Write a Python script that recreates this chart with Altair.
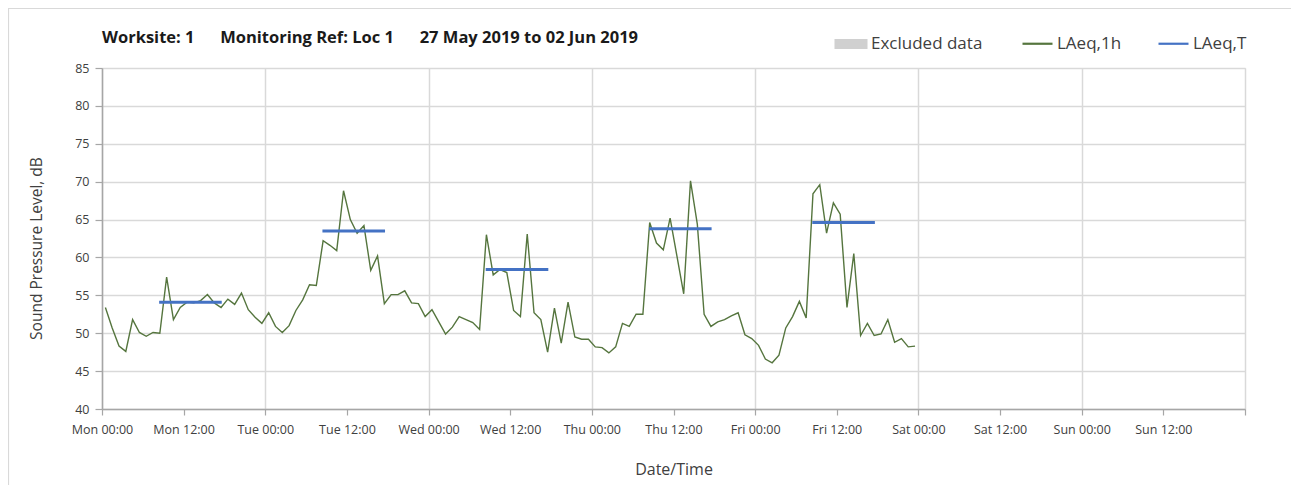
import altair as alt
import pandas as pd

# ---- data -------------------------------------------------------------
day_names = ["Mon", "Tue", "Wed", "Thu", "Fri", "Sat", "Sun", "Mon"]

# hourly LAeq,1h values, Mon 00:00 .. Fri 23:00 (plotted at mid-hour)
laeq_1h = [
    53.4, 50.7, 48.3, 47.6, 51.8, 50.1, 49.6, 50.1, 50.0, 57.4, 51.8, 53.4,
    54.1, 54.0, 54.3, 55.1, 54.0, 53.4, 54.5, 53.8, 55.3, 53.1, 52.1, 51.3,
    52.7, 50.9, 50.1, 51.0, 53.0, 54.4, 56.4, 56.3, 62.2, 61.6, 60.9, 68.8,
    65.0, 63.2, 64.2, 58.3, 60.2, 53.9, 55.1, 55.1, 55.6, 54.0, 53.9, 52.2,
    53.1, 51.5, 49.9, 50.8, 52.2, 51.8, 51.4, 50.5, 63.0, 57.7, 58.4, 58.0,
    53.0, 52.2, 63.1, 52.7, 51.8, 47.5, 53.3, 48.7, 54.1, 49.5, 49.2, 49.2,
    48.2, 48.1, 47.4, 48.2, 51.3, 50.9, 52.5, 52.5, 64.6, 61.9, 61.0, 65.2,
    60.2, 55.2, 70.1, 64.4, 52.5, 50.9, 51.5, 51.8, 52.3, 52.7, 49.8, 49.3,
    48.4, 46.6, 46.1, 47.1, 50.7, 52.2, 54.2, 52.0, 68.4, 69.6, 63.2, 67.2,
    65.7, 53.4, 60.5, 49.7, 51.3, 49.7, 49.9, 51.8, 48.8, 49.3, 48.2, 48.3,
]
hours = [h + 0.5 for h in range(len(laeq_1h))]

# LAeq,T daytime periods (hours from Mon 00:00)
lt_start = [8.4, 32.4, 56.4, 80.4, 104.4]
lt_end = [17.6, 41.6, 65.6, 89.6, 113.6]
lt_value = [54.1, 63.5, 58.4, 63.8, 64.6]

# excluded periods (none in this week)
excl_start = []
excl_end = []

x_ticks = list(range(0, 169, 12))
y_ticks = list(range(40, 86, 5))

title_parts = ["Worksite: 1", "Monitoring Ref: Loc 1", "27 May 2019 to 02 Jun 2019"]

GREEN = "#55753e"
BLUE = "#4472c4"
GREY = "#d0d0d0"
FONT = "Open Sans"
NB = "\u00a0"

df_1h = pd.DataFrame({"t": hours, "v": laeq_1h, "series": "LAeq,1h"})
df_t = pd.DataFrame({"t0": lt_start, "t1": lt_end, "v": lt_value, "series": "LAeq,T"})
df_ex = pd.DataFrame({"t0": pd.Series(excl_start, dtype=float),
                      "t1": pd.Series(excl_end, dtype=float),
                      "series": pd.Series([], dtype=str)})

label_expr = ("datum.value >= 168 ? '' : " + str(day_names) +
              "[floor(datum.value/24)] + ' ' + (datum.value % 24 == 0 ? '00:00' : '12:00')")

x_axis = alt.Axis(
    values=x_ticks, labelExpr=label_expr, title="Date/Time",
    grid=True,
    gridOpacity=alt.condition("datum.value % 24 == 0", alt.value(1), alt.value(0)),
    gridColor="#d9d9d9", gridWidth=1.5,
    domainColor="#a6a6a6", domainWidth=1.5, tickColor="#a6a6a6", tickWidth=1.2,
    tickSize=6, labelPadding=8, labelFontSize=12.5, labelColor="#404040",
    labelFont=FONT, titleFont=FONT, titleFontSize=16, titleFontWeight="normal",
    titleColor="#404040", titlePadding=26, labelFlush=False, labelOverlap=False,
)
y_axis = alt.Axis(
    values=y_ticks, title="Sound Pressure Level, dB",
    grid=True, gridColor="#d9d9d9", gridWidth=1.5,
    domainColor="#a6a6a6", domainWidth=1.5, tickColor="#a6a6a6", tickWidth=1.2,
    tickSize=7, labelPadding=6, labelFontSize=12.5, labelColor="#404040",
    labelFont=FONT, titleFont=FONT, titleFontSize=15.5, titleFontWeight="normal",
    titleColor="#404040", titlePadding=30, titleY=180,
)

xs = alt.Scale(domain=[0, 168], nice=False, zero=False)
ys = alt.Scale(domain=[40, 85], nice=False, zero=False)

stroke_scale = alt.Scale(domain=["LAeq,1h", "LAeq,T"], range=[GREEN, BLUE])
stroke_legend = alt.Legend(
    title=None, orient="none", legendX=919, legendY=-41, direction="horizontal",
    symbolType="stroke", symbolSize=900, symbolStrokeWidth=2.2,
    labelFont=FONT, labelFontSize=17, labelColor="#404040", columnPadding=32,
    labelOffset=3,
)
fill_legend = alt.Legend(
    title=None, orient="none", legendX=732, legendY=-41, direction="horizontal",
    symbolType="M-1,-0.31H1V0.31H-1Z", symbolSize=1090, symbolStrokeWidth=0,
    labelFont=FONT, labelFontSize=17, labelColor="#404040", labelOffset=3,
)

excluded = alt.Chart(df_ex).mark_rect(opacity=1).encode(
    x=alt.X("t0:Q", scale=xs, axis=x_axis),
    x2="t1:Q",
    y=alt.value(0), y2=alt.value(341),
    fill=alt.Fill("series:N", scale=alt.Scale(domain=["Excluded data"], range=[GREY]),
                  legend=fill_legend),
)

line_1h = alt.Chart(df_1h).mark_line(strokeWidth=1.4).encode(
    x=alt.X("t:Q", scale=xs, axis=x_axis),
    y=alt.Y("v:Q", scale=ys, axis=y_axis),
    stroke=alt.Stroke("series:N", scale=stroke_scale, legend=stroke_legend),
)

line_t = alt.Chart(df_t).mark_rule(strokeWidth=3).encode(
    x=alt.X("t0:Q", scale=xs, axis=x_axis),
    x2="t1:Q",
    y=alt.Y("v:Q", scale=ys, axis=y_axis),
    stroke=alt.Stroke("series:N", scale=stroke_scale, legend=stroke_legend),
)

# chart-area frame (only its top and left edges fall inside the picture)
border = alt.Chart(pd.DataFrame({"k": [0]})).mark_rect(
    fill=None, stroke="#d9d9d9", strokeWidth=1.2
).encode(x=alt.value(-93.5), x2=alt.value(1400), y=alt.value(-59.5), y2=alt.value(600))

title_text = (NB * 6).join(p.replace(" ", NB) for p in title_parts)

chart = alt.layer(border, excluded, line_1h, line_t).properties(
    width=1143, height=341,
    title=alt.Title(
        title_text,
        anchor="start", frame="group", font=FONT, fontSize=16.5, fontWeight="bold",
        color="#1a1a1a", offset=-39,
    ),
    autosize=alt.AutoSizeParams(type="none"),
    padding={"left": 94, "top": 60, "right": 46, "bottom": 76},
).configure_view(strokeWidth=0).configure(background="white")

chart.save("out.html", embed_options={"renderer": "svg", "actions": False})
